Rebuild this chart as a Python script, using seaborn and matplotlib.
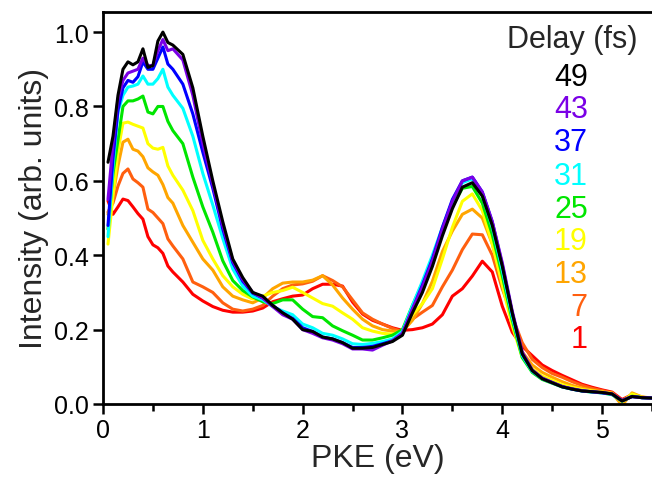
import numpy as np
import pandas as pd
import matplotlib
matplotlib.use("Agg")
import matplotlib.pyplot as plt
from matplotlib.ticker import MultipleLocator
import seaborn as sns

# photoelectron kinetic energy (eV)
pke = [0.05, 0.1, 0.15, 0.2, 0.25, 0.3, 0.35, 0.4, 0.45, 0.5, 0.55, 0.6, 0.65, 0.7,
       0.8, 0.9, 1.0, 1.1, 1.2, 1.3, 1.4, 1.5, 1.6, 1.7, 1.8, 1.9, 2.0, 2.1, 2.2, 2.3,
       2.4, 2.5, 2.6, 2.7, 2.8, 2.9, 3.0, 3.1, 3.2, 3.3, 3.4, 3.5, 3.6, 3.7, 3.8, 3.9,
       4.0, 4.1, 4.2, 4.3, 4.4, 4.5, 4.6, 4.7, 4.8, 4.9, 5.0, 5.1, 5.2, 5.3, 5.4, 5.5]

delays = [1, 7, 13, 19, 25, 31, 37, 43, 49]
colors = ['#ff0000', '#ff5f0f', '#ffa500', '#ffff00', '#00e600',
          '#00ffff', '#0000ff', '#7a00e6', '#000000']

i_1 = [0.546, 0.51, 0.53, 0.551, 0.547, 0.53, 0.512, 0.497, 0.45, 0.428, 0.42, 0.405, 0.371, 0.355,
       0.328, 0.295, 0.277, 0.262, 0.252, 0.247, 0.247, 0.25, 0.258, 0.275,
       0.283, 0.29, 0.293, 0.31, 0.322, 0.322, 0.317, 0.274, 0.242, 0.225,
       0.215, 0.205, 0.198, 0.20, 0.205, 0.215, 0.24, 0.29, 0.31, 0.344,
       0.384, 0.355, 0.263, 0.193, 0.155,
       0.13, 0.105, 0.09, 0.077, 0.065, 0.053, 0.045, 0.038, 0.032, 0.012, 0.025, 0.018, 0.016]
i_7 = [0.516, 0.54, 0.586, 0.62, 0.632, 0.605, 0.595, 0.583, 0.524, 0.515, 0.50, 0.485, 0.444, 0.425,
       0.39, 0.328, 0.315, 0.30, 0.272, 0.255, 0.25, 0.255, 0.265, 0.29,
       0.31, 0.32, 0.323, 0.33, 0.345, 0.332, 0.315, 0.28, 0.245, 0.228,
       0.215, 0.203, 0.195, 0.228, 0.247, 0.265, 0.315, 0.36, 0.415, 0.457,
       0.455, 0.40, 0.31, 0.235, 0.165,
       0.12, 0.098, 0.082, 0.072, 0.06, 0.05, 0.042, 0.036, 0.03, 0.01, 0.025, 0.018, 0.016]
i_13 = [0.51, 0.56, 0.64, 0.704, 0.712, 0.685, 0.68, 0.665, 0.635, 0.624, 0.615, 0.59, 0.555, 0.54,
        0.48, 0.435, 0.39, 0.36, 0.315, 0.29, 0.28, 0.272, 0.285, 0.31,
        0.325, 0.328, 0.328, 0.333, 0.345, 0.32, 0.285, 0.255, 0.228, 0.21,
        0.20, 0.196, 0.195, 0.225, 0.27, 0.33, 0.41, 0.465, 0.51, 0.524,
        0.50, 0.43, 0.33, 0.22, 0.14,
        0.105, 0.085, 0.072, 0.06, 0.05, 0.043, 0.037, 0.033, 0.03, -0.004, 0.03, 0.019, 0.016]
i_19 = [0.43, 0.56, 0.68, 0.755, 0.758, 0.752, 0.747, 0.742, 0.70, 0.688, 0.685, 0.69, 0.64, 0.615,
        0.575, 0.52, 0.44, 0.39, 0.345, 0.315, 0.295, 0.282, 0.29, 0.30,
        0.305, 0.314, 0.30, 0.285, 0.27, 0.263, 0.245, 0.228, 0.205, 0.196,
        0.19, 0.188, 0.195, 0.24, 0.27, 0.31, 0.39, 0.475, 0.545, 0.565,
        0.52, 0.43, 0.32, 0.21, 0.125,
        0.095, 0.075, 0.064, 0.052, 0.045, 0.039, 0.035, 0.032, 0.028, 0.006, 0.027, 0.018, 0.016]
i_25 = [0.47, 0.62, 0.71, 0.80, 0.815, 0.815, 0.82, 0.828, 0.785, 0.78, 0.80, 0.80, 0.76, 0.735,
        0.70, 0.61, 0.53, 0.462, 0.385, 0.332, 0.305, 0.288, 0.275, 0.27,
        0.28, 0.28, 0.255, 0.235, 0.232, 0.21, 0.197, 0.185, 0.172, 0.172,
        0.178, 0.185, 0.20, 0.265, 0.325, 0.39, 0.46, 0.53, 0.58, 0.585,
        0.54, 0.455, 0.345, 0.225, 0.125,
        0.085, 0.066, 0.056, 0.046, 0.04, 0.035, 0.032, 0.03, 0.025, 0.008, 0.021, 0.017, 0.016]
i_31 = [0.45, 0.64, 0.785, 0.83, 0.852, 0.855, 0.86, 0.882, 0.86, 0.86, 0.875, 0.90, 0.852, 0.83,
        0.795, 0.72, 0.62, 0.535, 0.445, 0.363, 0.317, 0.29, 0.28, 0.262,
        0.25, 0.24, 0.215, 0.205, 0.19, 0.185, 0.175, 0.162, 0.16, 0.163,
        0.168, 0.175, 0.195, 0.265, 0.33, 0.40, 0.475, 0.545, 0.595, 0.605,
        0.56, 0.475, 0.36, 0.235, 0.13,
        0.088, 0.068, 0.057, 0.046, 0.04, 0.035, 0.032, 0.03, 0.026, 0.008, 0.02, 0.017, 0.016]
i_37 = [0.48, 0.66, 0.79, 0.85, 0.87, 0.865, 0.88, 0.92, 0.90, 0.90, 0.93, 0.96, 0.914, 0.90,
        0.86, 0.78, 0.677, 0.58, 0.47, 0.38, 0.33, 0.298, 0.285, 0.265,
        0.245, 0.23, 0.205, 0.195, 0.18, 0.175, 0.165, 0.152, 0.152, 0.155,
        0.162, 0.17, 0.19, 0.255, 0.32, 0.39, 0.475, 0.55, 0.60, 0.61,
        0.57, 0.49, 0.375, 0.245, 0.135,
        0.09, 0.069, 0.058, 0.047, 0.04, 0.035, 0.033, 0.03, 0.027, 0.009, 0.02, 0.017, 0.016]
i_43 = [0.55, 0.70, 0.82, 0.87, 0.89, 0.895, 0.90, 0.93, 0.91, 0.91, 0.95, 0.98, 0.95, 0.955,
        0.925, 0.83, 0.70, 0.59, 0.48, 0.385, 0.335, 0.30, 0.285, 0.262,
        0.24, 0.228, 0.20, 0.19, 0.178, 0.172, 0.162, 0.148, 0.148, 0.145,
        0.158, 0.17, 0.19, 0.255, 0.315, 0.385, 0.47, 0.545, 0.60, 0.61,
        0.57, 0.49, 0.38, 0.25, 0.14,
        0.092, 0.07, 0.058, 0.047, 0.041, 0.036, 0.033, 0.031, 0.027, 0.009, 0.02, 0.017, 0.016]
i_49 = [0.65, 0.72, 0.83, 0.90, 0.92, 0.912, 0.92, 0.955, 0.905, 0.91, 0.976, 1.0, 0.972, 0.965,
        0.94, 0.85, 0.72, 0.60, 0.49, 0.39, 0.34, 0.30, 0.29, 0.265,
        0.245, 0.228, 0.20, 0.195, 0.18, 0.175, 0.165, 0.15, 0.15, 0.152,
        0.16, 0.168, 0.185, 0.245, 0.30, 0.37, 0.452, 0.525, 0.583, 0.595,
        0.559, 0.48, 0.371, 0.245, 0.135,
        0.09, 0.068, 0.057, 0.046, 0.04, 0.035, 0.033, 0.031, 0.027, 0.008, 0.02, 0.017, 0.016]

spectra = [i_1, i_7, i_13, i_19, i_25, i_31, i_37, i_43, i_49]

frames = []
for d, vals in zip(delays, spectra):
    frames.append(pd.DataFrame({'pke': pke, 'intensity': vals, 'delay': d}))
df = pd.concat(frames, ignore_index=True)

sns.set_style("ticks")
plt.rcParams['font.family'] = ['Liberation Sans', 'DejaVu Sans']

fig = plt.figure(figsize=(6.52, 4.81), dpi=100)
ax = fig.add_axes([103 / 652, 76 / 481, 549 / 652, 392 / 481])

sns.lineplot(data=df, x='pke', y='intensity', hue='delay', hue_order=delays,
             palette=colors, linewidth=2.2, estimator=None, legend=False, ax=ax)

ax.set_xlim(0, 5.5)
ax.set_ylim(0, 1.054)
ax.xaxis.set_major_locator(MultipleLocator(1))
ax.xaxis.set_minor_locator(MultipleLocator(0.5))
ax.yaxis.set_major_locator(MultipleLocator(0.2))
ax.yaxis.set_major_formatter(plt.FormatStrFormatter('%.1f'))
ax.tick_params(axis='both', which='major', direction='out', length=7, width=1.8,
               labelsize=18, color='black', labelcolor='black', pad=3)
ax.tick_params(axis='x', which='minor', direction='out', length=5, width=1.8, color='black')
for side in ['left', 'bottom', 'top']:
    ax.spines[side].set_linewidth(2.0)
    ax.spines[side].set_color('black')
ax.spines['right'].set_visible(False)

ax.set_xlabel('PKE (eV)', fontsize=23, labelpad=1)
ax.set_ylabel('Intensity (arb. units)', fontsize=23, labelpad=4)

# delay legend as coloured text
ax.text(0.854, 0.931, 'Delay (fs)', transform=ax.transAxes, fontsize=22,
        ha='center', va='center')
label_y = [0.166, 0.247, 0.332, 0.416, 0.497, 0.582, 0.668, 0.753, 0.834]
for d, c, yy in zip(delays, colors, label_y):
    ax.text(0.883, yy, str(d), transform=ax.transAxes, fontsize=22,
            ha='right', va='center', color=c)

fig.savefig('out.png', dpi=100)
